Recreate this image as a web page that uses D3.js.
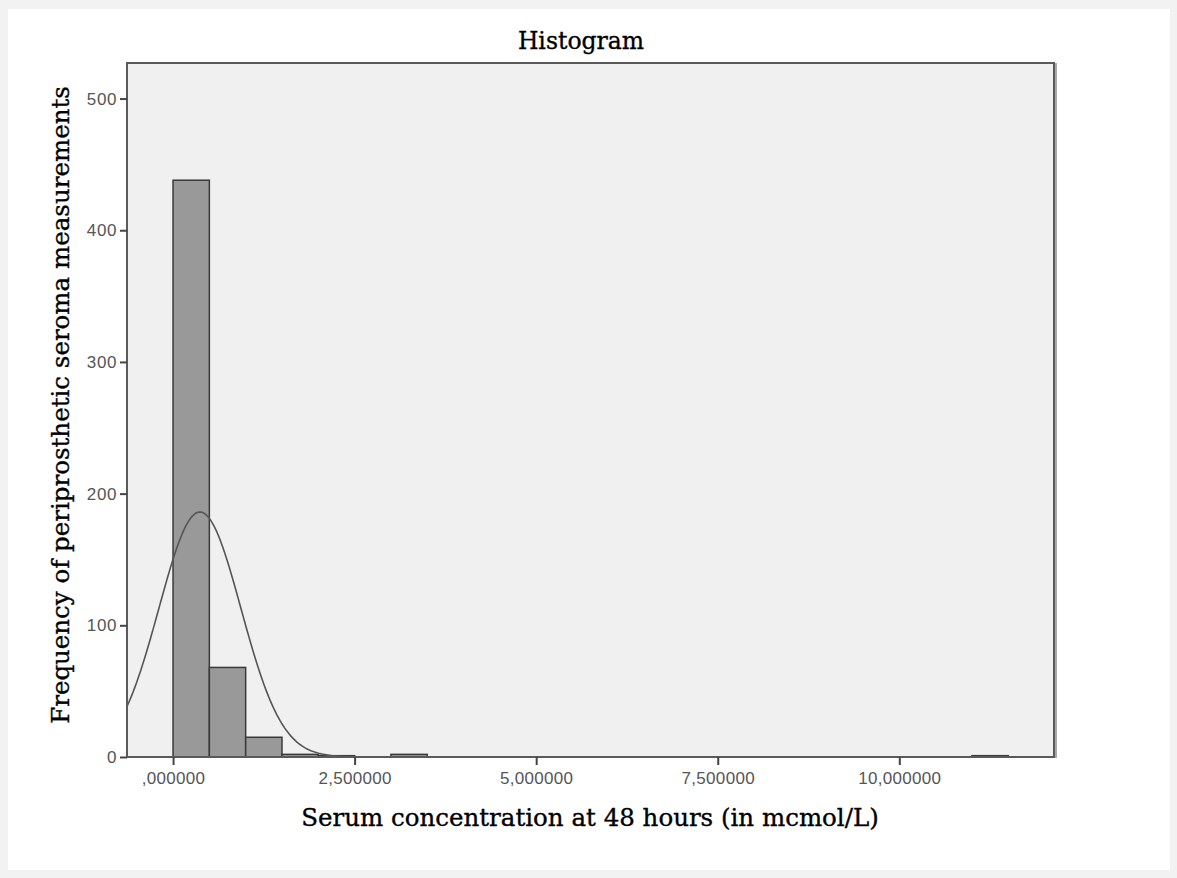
<!DOCTYPE html>
<html><head><meta charset="utf-8">
<script src="https://cdn.jsdelivr.net/npm/d3@7"></script>
<style>
html,body{margin:0;padding:0;background:#f2f2f2;}
svg{display:block;}
</style></head>
<body>
<svg id="chart" width="1177" height="878"></svg>
<script>
// Histogram bins (lower edge, upper edge) in mcmol/L and counts
const binStarts = [0, 0.5, 1.0, 1.5, 2.0, 3.0, 11.0];
const binEnds   = [0.5, 1.0, 1.5, 2.0, 2.5, 3.5, 11.5];
const counts    = [438, 68, 15, 2, 1, 2, 1];
// Fitted normal curve parameters
const fitMean = 0.37;
const fitSD = 0.565;
const binWidth = 0.5;
// Axis ticks
const xTicks = [0, 2.5, 5, 7.5, 10];
const xTickLabels = [",000000", "2,500000", "5,000000", "7,500000", "10,000000"];
const yTicks = [0, 100, 200, 300, 400, 500];

const svg = d3.select("#chart");
// white panel
svg.append("rect").attr("x", 8).attr("y", 9).attr("width", 1162).attr("height", 861).attr("fill", "#ffffff");

const L = 127, R = 1054, T = 63, B = 757;
const x = d3.scaleLinear().domain([-0.634, 12.13]).range([L, R]);
const y = d3.scaleLinear().domain([0, 527]).range([B, T]);

// plot background
svg.append("rect").attr("x", L).attr("y", T).attr("width", R - L).attr("height", B - T)
  .attr("fill", "#f0f0f0");

// bars
const bins = counts.map((c, i) => ({x0: binStarts[i], x1: binEnds[i], n: c}));
svg.append("g").selectAll("rect").data(bins).join("rect")
  .attr("x", d => x(d.x0)).attr("width", d => x(d.x1) - x(d.x0))
  .attr("y", d => y(d.n)).attr("height", d => y(0) - y(d.n))
  .attr("fill", "#999999").attr("stroke", "#3a3a3a").attr("stroke-width", 1.5);

// normal curve
const N = d3.sum(counts);
const xs = d3.range(0, 601).map(i => -0.634 + i * (12.13 + 0.634) / 600);
const pdf = v => N * binWidth / (fitSD * Math.sqrt(2 * Math.PI)) * Math.exp(-0.5 * ((v - fitMean) / fitSD) ** 2);
svg.append("path").datum(xs)
  .attr("d", d3.line().x(v => x(v)).y(v => y(pdf(v))).curve(d3.curveLinear))
  .attr("fill", "none").attr("stroke", "#555555").attr("stroke-width", 1.6);

// frame
svg.append("line").attr("x1", R + 2).attr("x2", R + 2).attr("y1", T).attr("y2", B + 1)
  .attr("stroke", "#aaaaaa").attr("stroke-width", 2);
svg.append("rect").attr("x", L).attr("y", T).attr("width", R - L).attr("height", B - T)
  .attr("fill", "none").attr("stroke", "#5a5a5a").attr("stroke-width", 2);

// y axis
const yAxis = d3.axisLeft(y).tickValues(yTicks).tickSize(7).tickPadding(3).tickFormat(d3.format("d"));
const gy = svg.append("g").attr("transform", `translate(${L},0)`).call(yAxis);
gy.select(".domain").remove();
gy.selectAll(".tick line").attr("stroke", "#444").attr("stroke-width", 2);
gy.selectAll(".tick text").attr("fill", "#555").attr("font-family", "Liberation Sans, Arial, sans-serif")
  .attr("font-size", "17px").attr("letter-spacing", "0.6px");

// x axis
const xAxis = d3.axisBottom(x).tickValues(xTicks).tickSize(8).tickPadding(7)
  .tickFormat((d, i) => xTickLabels[i]);
const gx = svg.append("g").attr("transform", `translate(0,${B})`).call(xAxis);
gx.select(".domain").remove();
gx.selectAll(".tick line").attr("stroke", "#444").attr("stroke-width", 2);
gx.selectAll(".tick text").attr("fill", "#555").attr("font-family", "Liberation Sans, Arial, sans-serif")
  .attr("font-size", "17px").attr("letter-spacing", "0.3px");

// titles
const serif = "DejaVu Serif, serif";
svg.append("text").attr("x", 581).attr("y", 49).attr("text-anchor", "middle")
  .attr("font-family", serif).attr("font-size", "23.5px").attr("fill", "#000")
  .attr("stroke", "#000").attr("stroke-width", 0.35)
  .text("Histogram");
svg.append("text").attr("x", 590).attr("y", 826).attr("text-anchor", "middle")
  .attr("font-family", serif).attr("font-size", "24.5px").attr("fill", "#000")
  .attr("stroke", "#000").attr("stroke-width", 0.35)
  .text("Serum concentration at 48 hours (in mcmol/L)");
svg.append("text").attr("transform", "translate(69,405) rotate(-90)").attr("text-anchor", "middle")
  .attr("font-family", serif).attr("font-size", "24.5px").attr("fill", "#000")
  .attr("stroke", "#000").attr("stroke-width", 0.35)
  .text("Frequency of periprosthetic seroma measurements");
</script>
</body></html>
